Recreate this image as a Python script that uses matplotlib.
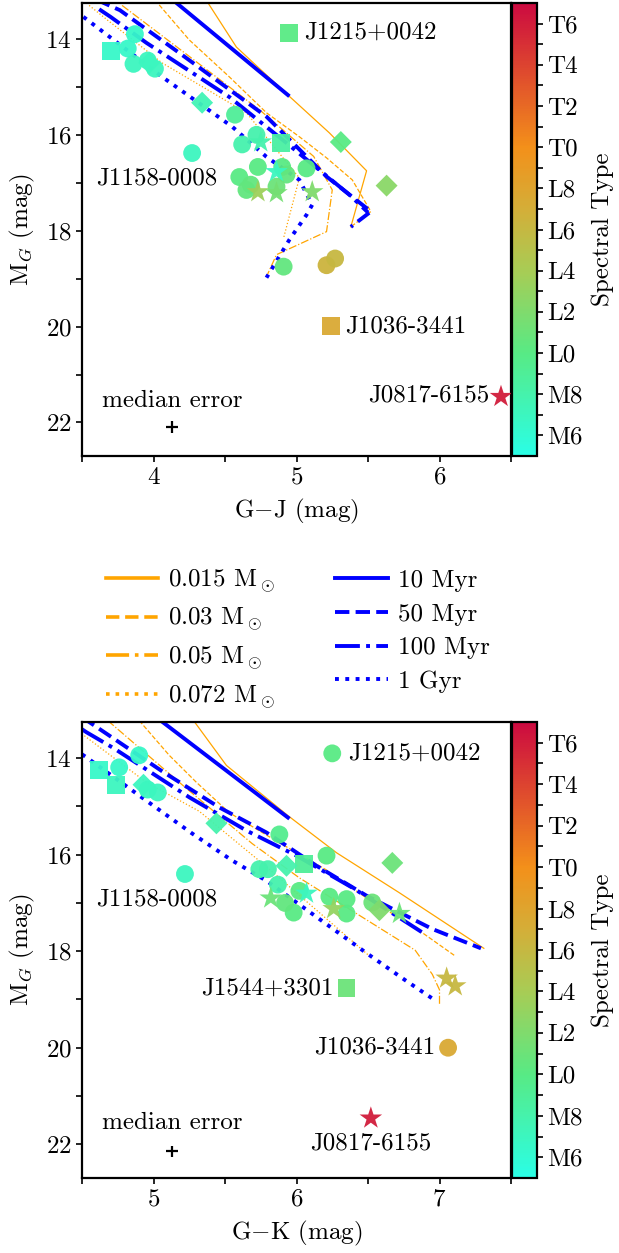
import matplotlib
matplotlib.use("Agg")
import matplotlib.pyplot as plt
from matplotlib.colors import LinearSegmentedColormap, Normalize
from matplotlib.cm import ScalarMappable
from matplotlib.lines import Line2D
from matplotlib.ticker import MultipleLocator, FixedLocator
import numpy as np

plt.rcParams['font.family'] = 'serif'
plt.rcParams['font.serif'] = ['cmr10', 'DejaVu Serif']
plt.rcParams['mathtext.fontset'] = 'cm'
plt.rcParams['axes.formatter.use_mathtext'] = True
plt.rcParams['font.size'] = 18
plt.rcParams['axes.unicode_minus'] = False

FS = 18

# ---------------- data ----------------
# spectral type as number: M0=0, L0=10, T0=20
spt_ticks = [6, 8, 10, 12, 14, 16, 18, 20, 22, 24, 26]
spt_labels = ['M6', 'M8', 'L0', 'L2', 'L4', 'L6', 'L8', 'T0', 'T2', 'T4', 'T6']

# top panel: G-J vs M_G
gj_circ_x = [3.87, 3.82, 3.86, 3.96, 4.01, 4.57, 4.27, 4.62, 4.72, 4.60, 4.68, 4.73, 4.90, 4.93, 4.86, 4.65, 5.07, 4.91, 5.21, 5.27]
gj_circ_y = [13.90, 14.20, 14.52, 14.45, 14.62, 15.58, 16.38, 16.20, 16.00, 16.88, 17.04, 16.67, 16.67, 16.83, 17.08, 17.15, 16.70, 18.75, 18.72, 18.58]
gj_circ_s = [6.5, 6.5, 7, 7, 7, 9, 7, 8, 8, 10, 10.5, 10, 10, 10.5, 11, 10.5, 10, 10.5, 16.5, 16]

gj_sq_x = [4.95, 3.70, 4.89, 5.24]
gj_sq_y = [13.875, 14.25, 16.17, 19.98]
gj_sq_s = [10, 6.5, 8.5, 17.5]

gj_dia_x = [3.97, 4.34, 5.31, 5.63]
gj_dia_y = [14.50, 15.33, 16.15, 17.06]
gj_dia_s = [7, 7.5, 10, 12.5]

gj_star_x = [4.75, 4.86, 4.73, 4.86, 5.11, 6.43]
gj_star_y = [16.15, 16.77, 17.19, 17.21, 17.19, 21.46]
gj_star_s = [8, 7, 13.5, 11.5, 12, 26]

# bottom panel: G-K vs M_G
gk_circ_x = [6.25, 4.76, 4.90, 5.03, 4.96, 5.22, 5.88, 5.74, 5.80, 6.21, 5.87, 5.98, 6.23, 6.35, 6.35, 6.53, 6.02, 5.92, 7.06]
gk_circ_y = [13.90, 14.19, 13.94, 14.71, 14.65, 16.40, 15.58, 16.30, 16.30, 16.02, 16.62, 17.20, 16.87, 16.92, 17.22, 16.99, 16.75, 17.00, 20.00]
gk_circ_s = [10, 6.5, 6.5, 7, 7, 7, 9.5, 8, 8, 10, 8, 10, 10, 10, 10, 11, 10, 10.5, 17.5]

gk_sq_x = [4.62, 4.74, 6.05, 6.35]
gk_sq_y = [14.25, 14.55, 16.20, 18.77]
gk_sq_s = [6.5, 7, 9, 11]

gk_dia_x = [4.93, 5.44, 5.93, 6.67, 6.58]
gk_dia_y = [14.55, 15.35, 16.23, 16.17, 17.15]
gk_dia_s = [7, 8, 8, 11, 12]

gk_star_x = [5.82, 6.07, 6.26, 6.72, 7.05, 7.11, 6.52]
gk_star_y = [16.90, 16.80, 17.12, 17.22, 18.56, 18.72, 21.46]
gk_star_s = [11, 7, 13, 11, 16, 16, 26]

# evolutionary models, top panel (G-J)
iso_gj = {
    '10 Myr': ([4.08, 4.94], [13.05, 15.17]),
    '50 Myr': ([3.60, 3.765, 4.18, 4.79, 5.21, 5.52, 5.38], [13.18, 13.40, 14.29, 15.62, 16.87, 17.60, 17.92]),
    '100 Myr': ([3.62, 3.70, 3.95, 4.53, 4.93, 5.37, 5.50], [13.38, 13.54, 14.08, 15.21, 16.17, 17.25, 17.62]),
    '1 Gyr': ([3.45, 3.51, 4.06, 4.55, 4.79, 5.02, 5.11, 5.07, 4.95, 4.79], [13.42, 13.54, 14.79, 15.83, 16.46, 16.94, 17.46, 17.67, 18.19, 18.98]),
}
trk_gj = {
    '0.015': ([4.36, 4.58, 4.94, 5.23, 5.49, 5.38], [13.15, 14.17, 15.17, 15.96, 16.75, 17.92]),
    '0.03': ([4.04, 4.25, 4.53, 4.79, 5.02, 5.21, 5.39, 5.52, 5.38], [13.29, 14.02, 14.79, 15.54, 16.04, 16.48, 16.94, 17.60, 17.92]),
    '0.05': ([3.78, 4.20, 4.75, 5.12, 5.25, 5.21, 4.86, 4.79], [13.30, 14.25, 15.50, 16.45, 17.15, 18.02, 18.50, 18.96]),
    '0.072': ([3.55, 3.65, 4.06, 4.65, 5.02, 4.91], [13.30, 13.54, 14.50, 15.54, 16.90, 18.15]),
}

# evolutionary models, bottom panel (G-K)
iso_gk = {
    '10 Myr': ([5.05, 5.94], [13.22, 15.23]),
    '50 Myr': ([4.50, 4.60, 4.79, 5.06, 5.46, 5.79, 6.14, 6.49, 6.95, 7.29], [13.15, 13.35, 13.73, 14.27, 15.02, 15.54, 16.23, 16.85, 17.54, 17.94]),
    '100 Myr': ([4.50, 4.53, 4.72, 5.25, 5.65, 6.00, 6.40, 6.79, 6.90], [13.40, 13.46, 13.79, 14.81, 15.50, 16.02, 16.70, 17.44, 17.65]),
    '1 Gyr': ([4.50, 4.53, 4.95, 5.27, 5.55, 5.79, 6.21, 6.49, 6.76, 6.95], [13.92, 13.98, 14.88, 15.56, 16.12, 16.54, 17.44, 18.04, 18.60, 18.98]),
}
trk_gk = {
    '0.015': ([5.28, 5.51, 5.94, 6.28, 6.72, 7.31], [13.22, 14.15, 15.19, 15.96, 16.79, 17.94]),
    '0.03': ([4.90, 5.11, 5.30, 5.53, 5.85, 6.20, 6.50, 6.80, 7.11], [13.22, 13.94, 14.50, 15.13, 15.70, 16.30, 16.92, 17.45, 18.10]),
    '0.05': ([4.68, 5.20, 5.69, 6.02, 6.49, 6.83, 6.95, 7.00, 7.00], [13.22, 14.55, 15.77, 16.48, 17.35, 17.98, 18.48, 18.80, 19.10]),
    '0.072': ([4.48, 4.51, 4.95, 5.32, 5.79, 6.51], [13.45, 13.52, 14.50, 15.10, 16.25, 18.10]),
}

styles = {'0.015': '-', '0.03': '--', '0.05': '-.', '0.072': ':',
          '10 Myr': '-', '50 Myr': '--', '100 Myr': '-.', '1 Gyr': ':'}

# colour map for spectral type
cmap = LinearSegmentedColormap.from_list(
    'spt', [(0.0, '#2afee6'), (5 / 22, '#58ea84'), (9 / 22, '#a8cc55'),
            (12 / 22, '#d4ae38'), (15 / 22, '#f3901a'), (1.0, '#cc0a40')])
norm = Normalize(vmin=5, vmax=27)

W, H = 619, 1253
fig = plt.figure(figsize=(W / 100, H / 100), dpi=100)


def panel(top, bottom):
    ax = fig.add_axes([82 / W, 1 - bottom / H, 429 / W, (bottom - top) / H])
    cax = fig.add_axes([512 / W, 1 - bottom / H, 25 / W, (bottom - top) / H])
    return ax, cax


def draw(ax, cax, tracks, isos, pts, xlim, xlabel):
    for name, (x, y) in tracks.items():
        ax.plot(x, y, color='orange', ls=styles[name], lw=0.9, zorder=2)
    for name, (x, y) in isos.items():
        ax.plot(x, y, color='blue', ls=styles[name], lw=2.8, zorder=2)

    for mk, size, (x, y, s) in pts:
        ax.scatter(x, y, c=s, cmap=cmap, norm=norm, marker=mk, s=size,
                   edgecolors='none', alpha=0.95, zorder=3)

    ax.set_xlim(*xlim)
    ax.set_ylim(22.7, 13.25)
    ax.xaxis.set_major_locator(MultipleLocator(1))
    ax.xaxis.set_minor_locator(MultipleLocator(0.5))
    ax.yaxis.set_major_locator(MultipleLocator(2))
    ax.yaxis.set_minor_locator(MultipleLocator(1))
    ax.tick_params(which='both', direction='out', length=4, width=1.2, labelsize=FS)
    for sp in ax.spines.values():
        sp.set_linewidth(1.6)
    ax.set_xlabel(xlabel, fontsize=FS, labelpad=6)
    ax.set_ylabel(r'M$_G$ (mag)', fontsize=FS, labelpad=6)

    cb = fig.colorbar(ScalarMappable(norm=norm, cmap=cmap), cax=cax)
    cb.set_ticks(spt_ticks)
    cb.set_ticklabels(spt_labels)
    cb.ax.yaxis.set_minor_locator(FixedLocator(list(range(7, 26, 2))))
    cb.ax.tick_params(which='both', direction='out', length=4, width=1.2, labelsize=FS)
    cb.outline.set_linewidth(1.6)
    cb.set_label('Spectral Type', fontsize=FS, labelpad=6)


# ---------------- top panel ----------------
ax1, cax1 = panel(3, 456)
draw(ax1, cax1, trk_gj, iso_gj,
     [('o', 165, (gj_circ_x, gj_circ_y, gj_circ_s)),
      ('s', 165, (gj_sq_x, gj_sq_y, gj_sq_s)),
      ('D', 125, (gj_dia_x, gj_dia_y, gj_dia_s)),
      ('*', 290, (gj_star_x, gj_star_y, gj_star_s))],
     (3.5, 6.5), r'G$-$J (mag)')
ax1.text(5.05, 13.875, 'J1215+0042', ha='left', va='center', fontsize=FS)
ax1.text(4.02, 16.92, 'J1158-0008', ha='center', va='center', fontsize=FS)
ax1.text(5.34, 20.0, 'J1036-3441', ha='left', va='center', fontsize=FS)
ax1.text(6.35, 21.44, 'J0817-6155', ha='right', va='center', fontsize=FS)
ax1.text(4.13, 21.55, 'median error', ha='center', va='center', fontsize=FS)
ax1.errorbar([4.13], [22.1], xerr=0.04, yerr=0.12, color='black', lw=1.6, capsize=0)

# ---------------- bottom panel ----------------
ax2, cax2 = panel(722, 1178)
draw(ax2, cax2, trk_gk, iso_gk,
     [('o', 165, (gk_circ_x, gk_circ_y, gk_circ_s)),
      ('s', 165, (gk_sq_x, gk_sq_y, gk_sq_s)),
      ('D', 125, (gk_dia_x, gk_dia_y, gk_dia_s)),
      ('*', 290, (gk_star_x, gk_star_y, gk_star_s))],
     (4.5, 7.5), r'G$-$K (mag)')
ax2.text(6.36, 13.9, 'J1215+0042', ha='left', va='center', fontsize=FS)
ax2.text(5.02, 16.92, 'J1158-0008', ha='center', va='center', fontsize=FS)
ax2.text(6.26, 18.77, 'J1544+3301', ha='right', va='center', fontsize=FS)
ax2.text(6.97, 20.0, 'J1036-3441', ha='right', va='center', fontsize=FS)
ax2.text(6.52, 21.98, 'J0817-6155', ha='center', va='center', fontsize=FS)
ax2.text(5.13, 21.55, 'median error', ha='center', va='center', fontsize=FS)
ax2.errorbar([5.13], [22.15], xerr=0.04, yerr=0.12, color='black', lw=1.6, capsize=0)

# ---------------- legend between the panels ----------------
handles = [Line2D([], [], color='orange', ls=styles[m], lw=2.6) for m in trk_gj] + \
          [Line2D([], [], color='blue', ls=styles[a], lw=2.8) for a in iso_gj]
labels = [m + r' M$_\odot$' for m in trk_gj] + list(iso_gj)
fig.legend(handles, labels, loc='upper left', bbox_to_anchor=(83 / W, 1 - 545 / H),
           ncol=2, frameon=False, fontsize=FS, handlelength=2.1, handletextpad=0.42,
           columnspacing=2.4, labelspacing=0.45)

fig.savefig('out.png', dpi=100)
